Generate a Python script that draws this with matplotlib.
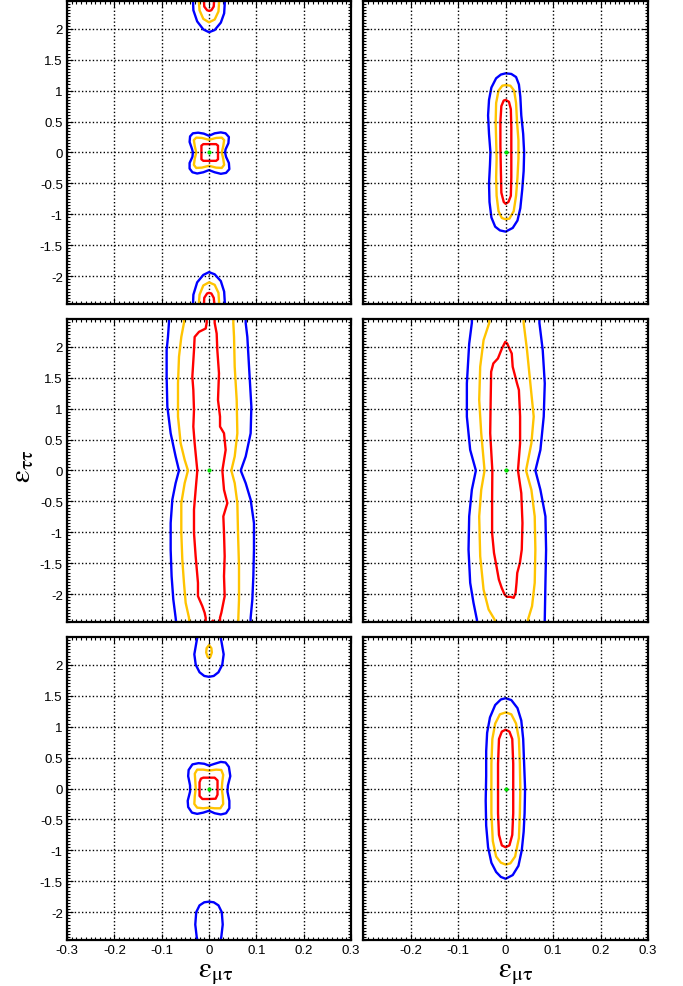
import matplotlib
matplotlib.use("Agg")
import matplotlib.pyplot as plt
from matplotlib.patches import Polygon
from matplotlib.ticker import MultipleLocator

plt.rcParams['font.family'] = ['Liberation Sans', 'DejaVu Sans']
plt.rcParams['mathtext.fontset'] = 'stix'

# axis ticks
x_ticks = [-0.3, -0.2, -0.1, 0.0, 0.1, 0.2, 0.3]
x_labels = ['-0.3', '-0.2', '-0.1', '0', '0.1', '0.2', '0.3']
y_ticks = [-2.0, -1.5, -1.0, -0.5, 0.0, 0.5, 1.0, 1.5, 2.0]
y_labels = ['-2', '-1.5', '-1', '-0.5', '0', '0.5', '1', '1.5', '2']
x_range = (-0.3, 0.3)
y_range = (-2.45, 2.45)
best_fit = (0.0, 0.0)

# contour outlines (eps_mutau, eps_tautau)
# --- top left
tl_blue_c = [(0, 0.27), (0.012, 0.31), (0.025, 0.325), (0.035, 0.31), (0.042, 0.25),
             (0.041, 0.15), (0.035, 0.05), (0.034, 0.0), (0.036, -0.07), (0.042, -0.17),
             (0.043, -0.27), (0.036, -0.33), (0.025, -0.345), (0.012, -0.32), (0, -0.285),
             (-0.012, -0.32), (-0.025, -0.34), (-0.035, -0.32), (-0.041, -0.26), (-0.041, -0.17),
             (-0.035, -0.07), (-0.034, 0.0), (-0.036, 0.06), (-0.041, 0.17), (-0.04, 0.26),
             (-0.034, 0.31), (-0.023, 0.32), (-0.011, 0.305)]
tl_orange_c = [(0, 0.205), (0.015, 0.235), (0.027, 0.24), (0.032, 0.2), (0.03, 0.1), (0.027, 0),
               (0.03, -0.1), (0.032, -0.2), (0.027, -0.25), (0.015, -0.245), (0, -0.215),
               (-0.015, -0.245), (-0.027, -0.25), (-0.032, -0.2), (-0.03, -0.1), (-0.027, 0),
               (-0.03, 0.1), (-0.032, 0.2), (-0.027, 0.24), (-0.015, 0.235)]
tl_red_c = [(-0.012, 0.135), (0.015, 0.135), (0.019, 0.11), (0.019, -0.11), (0.015, -0.135),
            (-0.012, -0.135), (-0.016, -0.11), (-0.016, 0.11)]
tl_blue_top = [(-0.034, 2.5), (-0.033, 2.3), (-0.025, 2.12), (-0.012, 1.99), (0, 1.945),
               (0.012, 1.98), (0.025, 2.1), (0.032, 2.25), (0.034, 2.5)]
tl_orange_top = [(-0.022, 2.5), (-0.02, 2.3), (-0.012, 2.16), (0, 2.105), (0.012, 2.15),
                 (0.02, 2.28), (0.022, 2.5)]
tl_red_top = [(-0.011, 2.5), (-0.01, 2.36), (-0.004, 2.3), (0, 2.29), (0.005, 2.3),
              (0.01, 2.36), (0.011, 2.5)]
tl_blue_bot = [(-0.034, -2.5), (-0.033, -2.3), (-0.025, -2.1), (-0.012, -1.98), (0, -1.935),
               (0.012, -1.97), (0.025, -2.08), (0.032, -2.25), (0.034, -2.5)]
tl_orange_bot = [(-0.022, -2.5), (-0.02, -2.3), (-0.012, -2.15), (0, -2.1), (0.012, -2.14),
                 (0.02, -2.27), (0.022, -2.5)]
tl_red_bot = [(-0.011, -2.5), (-0.01, -2.35), (-0.004, -2.28), (0, -2.27), (0.005, -2.28),
              (0.01, -2.35), (0.012, -2.5)]

# --- top right
tr_blue = [(0.0, 1.28), (0.012, 1.27), (0.022, 1.22), (0.028, 1.1), (0.031, 0.9), (0.033, 0.6),
           (0.037, 0.3), (0.039, 0.0), (0.038, -0.3), (0.035, -0.6), (0.031, -0.9), (0.025, -1.1),
           (0.015, -1.22), (0.0, -1.28), (-0.012, -1.26), (-0.022, -1.2), (-0.03, -1.05),
           (-0.034, -0.8), (-0.035, -0.5), (-0.033, -0.2), (-0.032, 0.0), (-0.035, 0.3),
           (-0.037, 0.6), (-0.035, 0.85), (-0.03, 1.05), (-0.02, 1.2), (-0.01, 1.26)]
tr_orange = [(0.0, 1.09), (0.01, 1.08), (0.018, 1.0), (0.022, 0.8), (0.024, 0.5), (0.027, 0.2),
             (0.027, -0.1), (0.025, -0.4), (0.022, -0.7), (0.017, -0.95), (0.008, -1.07),
             (0.0, -1.08), (-0.008, -1.06), (-0.015, -0.95), (-0.019, -0.7), (-0.02, -0.4),
             (-0.019, -0.1), (-0.02, 0.2), (-0.021, 0.5), (-0.02, 0.8), (-0.015, 1.0), (-0.007, 1.08)]
tr_red = [(0.0, 0.85), (0.007, 0.82), (0.011, 0.7), (0.012, 0.4), (0.012, 0), (0.012, -0.4),
          (0.011, -0.7), (0.006, -0.8), (0.0, -0.83), (-0.004, -0.8), (-0.009, -0.65),
          (-0.01, -0.3), (-0.011, 0.1), (-0.011, 0.5), (-0.009, 0.75), (-0.004, 0.84)]

# --- middle left (open bands)
ml_blue_l = [(-0.0846, 2.5), (-0.0846, 2.387), (-0.0867, 2.16), (-0.0895, 1.946), (-0.0895, 1.516),
             (-0.088, 1.032), (-0.081, 0.602), (-0.0705, 0.226), (-0.0634, 0.0), (-0.0705, -0.204),
             (-0.0775, -0.473), (-0.081, -0.85), (-0.081, -1.28), (-0.079, -1.71), (-0.0754, -2.086),
             (-0.0705, -2.38), (-0.069, -2.5)]
ml_blue_r = [(0.0775, 2.5), (0.0775, 2.387), (0.081, 2.16), (0.0846, 1.677), (0.0895, 1.032),
             (0.088, 0.602), (0.0775, 0.226), (0.067, 0.0), (0.0775, -0.204), (0.088, -0.473),
             (0.095, -0.85), (0.095, -1.28), (0.0937, -1.71), (0.0916, -2.086), (0.088, -2.38),
             (0.0875, -2.5)]
ml_orange_l = [(-0.0529, 2.5), (-0.0529, 2.387), (-0.0585, 2.16), (-0.0634, 1.839), (-0.0655, 1.409),
               (-0.0655, 0.871), (-0.0599, 0.441), (-0.0514, 0.172), (-0.0444, 0.0), (-0.0514, -0.204),
               (-0.0585, -0.527), (-0.0585, -1.011), (-0.0564, -1.441), (-0.0529, -1.817),
               (-0.0493, -2.14), (-0.0423, -2.38), (-0.041, -2.5)]
ml_orange_r = [(0.0514, 2.5), (0.0514, 2.387), (0.0529, 2.16), (0.0543, 1.677), (0.0585, 1.14),
               (0.0599, 0.602), (0.0543, 0.226), (0.0472, 0.0), (0.0543, -0.204), (0.0599, -0.527),
               (0.0613, -1.011), (0.0634, -1.548), (0.0634, -2.086), (0.062, -2.38), (0.062, -2.5)]
ml_red_l = [(-0.0049, 2.5), (-0.0049, 2.387), (-0.007, 2.296), (-0.0211, 2.242), (-0.0303, 2.16),
            (-0.0317, 1.946), (-0.0352, 1.516), (-0.0331, 1.301), (-0.0317, 0.978), (-0.0331, 0.71),
            (-0.0303, 0.441), (-0.0247, 0.0), (-0.0282, -0.312), (-0.0317, -0.634), (-0.0317, -1.011),
            (-0.0282, -1.387), (-0.0233, -1.817), (-0.0233, -2.032), (-0.0141, -2.194),
            (-0.0092, -2.301), (-0.007, -2.38), (-0.007, -2.5)]
ml_red_r = [(0.012, 2.5), (0.012, 2.387), (0.0162, 2.215), (0.0176, 1.946), (0.0211, 1.57),
            (0.019, 1.14), (0.0233, 0.871), (0.0233, 0.71), (0.0317, 0.602), (0.0352, 0.333),
            (0.0282, 0.0), (0.0317, -0.312), (0.0388, -0.527), (0.0303, -0.742), (0.0317, -1.011),
            (0.0331, -1.387), (0.0317, -1.71), (0.0331, -2.032), (0.0261, -2.301), (0.0233, -2.38),
            (0.0233, -2.5)]
ml_red_dot = [(0.008, -2.43), (0.01, -2.45)]

# --- middle right
mr_blue_l = [(-0.0712, 2.5), (-0.0712, 2.387), (-0.0768, 2.05), (-0.0817, 1.409), (-0.0817, 0.871),
             (-0.0747, 0.333), (-0.0627, 0.0), (-0.0712, -0.312), (-0.0768, -0.742), (-0.0782, -1.28),
             (-0.0747, -1.817), (-0.0677, -2.14), (-0.0606, -2.41), (-0.06, -2.5)]
mr_blue_r = [(0.0712, 2.5), (0.0712, 2.387), (0.0782, 1.946), (0.0825, 1.409), (0.0803, 0.871),
             (0.0733, 0.333), (0.0627, 0.0), (0.0733, -0.312), (0.0839, -0.742), (0.0853, -1.28),
             (0.0839, -1.817), (0.0825, -2.41), (0.0825, -2.5)]
mr_orange_l = [(-0.0345, 2.5), (-0.0345, 2.387), (-0.0465, 2.108), (-0.0536, 1.677), (-0.0557, 1.14),
               (-0.0514, 0.602), (-0.0444, 0.0), (-0.0514, -0.312), (-0.0557, -0.742),
               (-0.0536, -1.387), (-0.0465, -1.925), (-0.0359, -2.247), (-0.0233, -2.41),
               (-0.021, -2.5)]
mr_orange_r = [(0.038, 2.5), (0.038, 2.387), (0.0451, 1.946), (0.0521, 1.409), (0.0592, 0.871),
               (0.0543, 0.441), (0.043, 0.0), (0.0543, -0.312), (0.0613, -0.742), (0.0627, -1.28),
               (0.0613, -1.817), (0.0557, -2.194), (0.0472, -2.41), (0.046, -2.5)]
mr_red = [(-0.0007, 2.08), (-0.0078, 1.973), (-0.0162, 1.812), (-0.0259, 1.731), (-0.0305, 1.597),
          (-0.0315, 1.14), (-0.0325, 0.602), (-0.028, 0.0), (-0.0285, -0.473), (-0.0285, -1.011),
          (-0.0245, -1.333), (-0.0193, -1.548), (-0.0143, -1.763), (-0.0083, -1.898),
          (-0.0022, -2.005), (0.0027, -2.043), (0.0099, -2.043), (0.017, -2.059), (0.021, -1.978),
          (0.023, -1.817), (0.0245, -1.656), (0.0301, -1.495), (0.034, -1.28), (0.0355, -0.849),
          (0.033, -0.366), (0.026, 0.0), (0.0305, 0.441), (0.0305, 0.871), (0.028, 1.301),
          (0.024, 1.409), (0.0149, 1.677), (0.0129, 1.892), (0.0063, 2.0), (0.0033, 2.054)]

# --- bottom left
bl_blue_c = [(0, 0.37), (0.012, 0.4), (0.025, 0.43), (0.035, 0.42), (0.042, 0.35), (0.045, 0.2),
             (0.04, 0.05), (0.039, -0.05), (0.043, -0.2), (0.043, -0.32), (0.036, -0.4),
             (0.025, -0.42), (0.012, -0.4), (0.0, -0.36), (-0.012, -0.39), (-0.025, -0.41),
             (-0.036, -0.39), (-0.044, -0.3), (-0.045, -0.2), (-0.04, -0.05), (-0.04, 0.05),
             (-0.044, 0.2), (-0.043, 0.3), (-0.035, 0.39), (-0.022, 0.41), (-0.01, 0.4)]
bl_orange_c = [(0, 0.29), (0.015, 0.305), (0.026, 0.3), (0.03, 0.22), (0.028, 0.1), (0.027, 0),
               (0.029, -0.12), (0.03, -0.25), (0.024, -0.32), (0.012, -0.32), (0, -0.31),
               (-0.012, -0.32), (-0.025, -0.31), (-0.031, -0.25), (-0.03, -0.12), (-0.028, 0),
               (-0.029, 0.12), (-0.03, 0.24), (-0.025, 0.305), (-0.012, 0.305)]
bl_red_c = [(-0.012, 0.175), (0.012, 0.175), (0.018, 0.13), (0.018, -0.1), (0.014, -0.165),
            (0.0, -0.17), (-0.014, -0.17), (-0.02, -0.12), (-0.02, 0.1), (-0.017, 0.16)]
bl_blue_top = [(-0.023, 2.5), (-0.026, 2.39), (-0.031, 2.17), (-0.028, 2.0), (-0.02, 1.88),
               (-0.01, 1.82), (0, 1.806), (0.01, 1.82), (0.02, 1.88), (0.028, 2.0),
               (0.031, 2.17), (0.026, 2.39), (0.023, 2.5)]
bl_orange_top = [(0, 2.32), (0.005, 2.27), (0.006, 2.2), (0.003, 2.13), (0, 2.11), (-0.003, 2.13),
                 (-0.006, 2.2), (-0.005, 2.27)]
bl_blue_bot = [(-0.023, -2.5), (-0.026, -2.4), (-0.029, -2.2), (-0.027, -2.0), (-0.02, -1.89),
               (-0.01, -1.84), (0, -1.83), (0.01, -1.84), (0.02, -1.89), (0.027, -2.0),
               (0.029, -2.2), (0.026, -2.4), (0.023, -2.5)]

# --- bottom right
br_blue = [(0, 1.46), (0.012, 1.43), (0.025, 1.3), (0.033, 1.1), (0.037, 0.8), (0.039, 0.4),
           (0.041, 0), (0.04, -0.4), (0.038, -0.7), (0.034, -1.0), (0.027, -1.25), (0.015, -1.4),
           (0, -1.46), (-0.01, -1.43), (-0.02, -1.35), (-0.03, -1.2), (-0.037, -0.95),
           (-0.041, -0.6), (-0.042, -0.2), (-0.041, 0.2), (-0.041, 0.6), (-0.039, 0.9),
           (-0.033, 1.15), (-0.022, 1.35), (-0.01, 1.44)]
br_orange = [(0, 1.23), (0.012, 1.2), (0.022, 1.05), (0.028, 0.8), (0.03, 0.4), (0.031, 0),
             (0.03, -0.4), (0.028, -0.8), (0.02, -1.1), (0.01, -1.21), (0, -1.23), (-0.01, -1.2),
             (-0.02, -1.1), (-0.027, -0.85), (-0.03, -0.4), (-0.03, 0), (-0.03, 0.4),
             (-0.028, 0.8), (-0.022, 1.05), (-0.012, 1.2)]
br_red = [(0, 0.95), (0.008, 0.92), (0.014, 0.8), (0.016, 0.4), (0.016, 0), (0.016, -0.4),
          (0.014, -0.75), (0.008, -0.92), (0, -0.95), (-0.008, -0.92), (-0.014, -0.75),
          (-0.016, -0.4), (-0.016, 0), (-0.016, 0.4), (-0.014, 0.8), (-0.008, 0.92)]

BLUE, ORANGE, RED, GREEN = '#0000ff', '#ffc400', '#ff0000', '#00e000'

# (closed outlines, open curves) for each panel
panels = [
    ([(tl_blue_c, BLUE), (tl_orange_c, ORANGE), (tl_red_c, RED)],
     [(tl_blue_top, BLUE), (tl_orange_top, ORANGE), (tl_red_top, RED),
      (tl_blue_bot, BLUE), (tl_orange_bot, ORANGE), (tl_red_bot, RED)]),
    ([(tr_blue, BLUE), (tr_orange, ORANGE), (tr_red, RED)], []),
    ([], [(ml_blue_l, BLUE), (ml_blue_r, BLUE), (ml_orange_l, ORANGE), (ml_orange_r, ORANGE),
          (ml_red_l, RED), (ml_red_r, RED), (ml_red_dot, RED)]),
    ([(mr_red, RED)], [(mr_blue_l, BLUE), (mr_blue_r, BLUE), (mr_orange_l, ORANGE),
                       (mr_orange_r, ORANGE)]),
    ([(bl_blue_c, BLUE), (bl_orange_c, ORANGE), (bl_red_c, RED), (bl_orange_top, ORANGE)],
     [(bl_blue_top, BLUE), (bl_blue_bot, BLUE)]),
    ([(br_blue, BLUE), (br_orange, ORANGE), (br_red, RED)], []),
]

fig = plt.figure(figsize=(6.83, 9.87), dpi=100)
col_x = [(0.0981, 0.4158), (0.5319, 0.4168)]
row_y = [0.6910, 0.3688, 0.0466]
row_h = 0.3070

for i, (closed, opened) in enumerate(panels):
    r, c = divmod(i, 2)
    x0, w = col_x[c]
    ax = fig.add_axes([x0, row_y[r], w, row_h])
    ax.set_xlim(*x_range)
    ax.set_ylim(*y_range)
    ax.set_xticks(x_ticks)
    ax.set_yticks(y_ticks)
    ax.xaxis.set_minor_locator(MultipleLocator(0.01))
    ax.yaxis.set_minor_locator(MultipleLocator(0.05))
    ax.grid(True, which='major', color='black', linestyle=(0, (1.0, 1.6)), linewidth=1.0)
    ax.tick_params(which='both', direction='in', top=True, right=True, width=0.8,
                   labelsize=9.5, colors='black', pad=3)
    ax.tick_params(which='major', length=4)
    ax.tick_params(which='minor', length=2)
    for sp in ax.spines.values():
        sp.set_linewidth(1.6)
    if c == 0:
        ax.set_yticklabels(y_labels)
    else:
        ax.set_yticklabels([])
    if r == 2:
        if c == 0:
            ax.set_xticklabels(x_labels)
        else:
            ax.set_xticklabels([''] + x_labels[1:])
    else:
        ax.set_xticklabels([])
    for pts, col in closed:
        ax.add_patch(Polygon(pts, closed=True, fill=False, edgecolor=col, linewidth=1.7,
                             joinstyle='round'))
    for pts, col in opened:
        ax.plot([p[0] for p in pts], [p[1] for p in pts], color=col, linewidth=1.7,
                solid_joinstyle='round')
    ax.plot(*best_fit, 'o', color=GREEN, markersize=3, markeredgewidth=0)

xlab = r'$\mathrm{\varepsilon}_{\mathrm{\mu\tau}}$'
ylab = r'$\mathrm{\varepsilon}_{\mathrm{\tau\tau}}$'
fig.text(215 / 683, 1 - 973 / 987, xlab, fontsize=21, ha='center', va='center')
fig.text(515 / 683, 1 - 973 / 987, xlab, fontsize=21, ha='center', va='center')
fig.text(22 / 683, 1 - 466 / 987, ylab, fontsize=21, ha='center', va='center', rotation=90)

fig.savefig('out.png', dpi=100)
